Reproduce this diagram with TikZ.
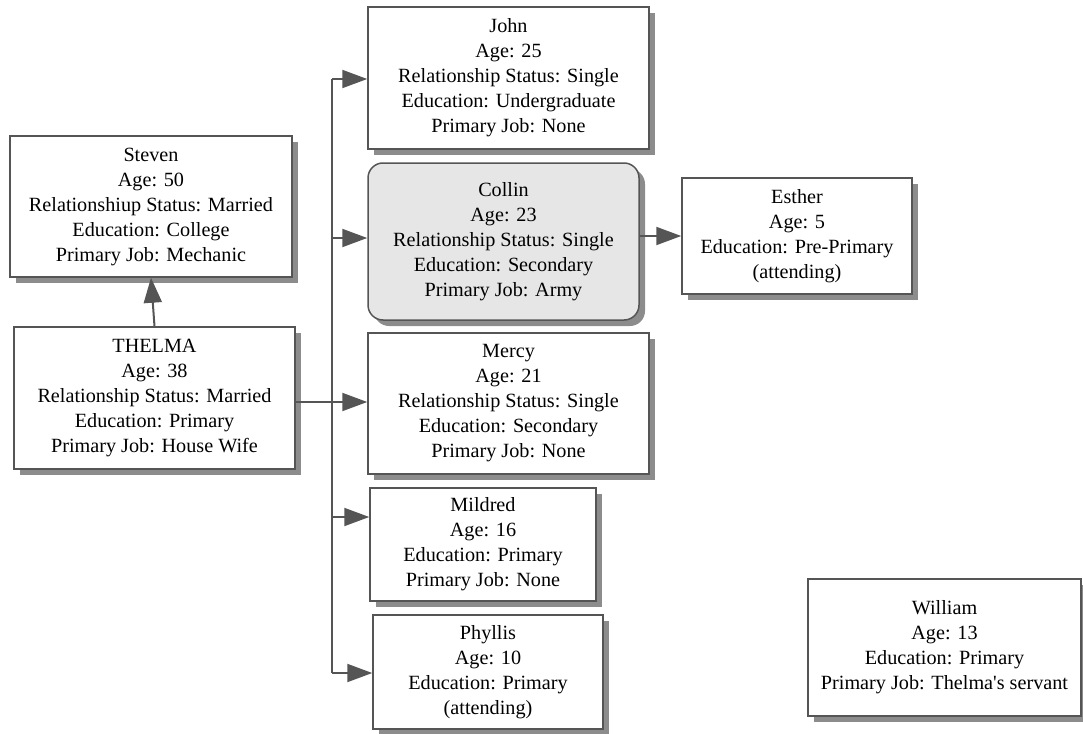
\documentclass[tikz,border=0pt]{standalone}
\usepackage{fontspec}
\setmainfont{Liberation Serif}
\usetikzlibrary{shadows,arrows.meta}
\definecolor{edgegray}{HTML}{555555}
\definecolor{shadowgray}{HTML}{8C8C8C}
\definecolor{hilite}{HTML}{E6E6E6}
\begin{document}
\begin{tikzpicture}[x=1pt,y=-1pt,
  person/.style={draw=edgegray, line width=1.5pt, fill=white, align=center,
    inner sep=0pt, font=\fontsize{20.2}{25}\selectfont,
    drop shadow={shadow xshift=6pt, shadow yshift=-6pt, fill=shadowgray, opacity=1}},
  link/.style={draw=edgegray, line width=2pt},
  arr/.style={link, -{Triangle[length=25pt,width=18pt]}}
]
\useasboundingbox (0,0) rectangle (1083,733);

% people
\node[person, minimum width=282pt, minimum height=141pt] (steven) at (151,206.5)
  {Steven\\Age: 50\\Relationshiup Status: Married\\Education: College\\Primary Job: Mechanic};
\node[person, minimum width=281pt, minimum height=142pt] (thelma) at (154.5,398)
  {THELMA\\Age: 38\\Relationship Status: Married\\Education: Primary\\Primary Job: House Wife};
\node[person, minimum width=281pt, minimum height=142pt] (john) at (508.5,78)
  {John\\Age: 25\\Relationship Status: Single\\Education: Undergraduate\\Primary Job: None};
\node[person, fill=hilite, rounded corners=15pt, minimum width=271pt, minimum height=157pt] (collin) at (503.5,241.5)
  {Collin\\Age: 23\\Relationship Status: Single\\Education: Secondary\\Primary Job: Army};
\node[person, minimum width=230pt, minimum height=116pt] (esther) at (797,236)
  {Esther\\Age: 5\\Education: Pre-Primary\\(attending)};
\node[person, minimum width=281pt, minimum height=141pt] (mercy) at (508.5,403.5)
  {Mercy\\Age: 21\\Relationship Status: Single\\Education: Secondary\\Primary Job: None};
\node[person, minimum width=226pt, minimum height=113pt] (mildred) at (483,544.5)
  {Mildred\\Age: 16\\Education: Primary\\Primary Job: None};
\node[person, minimum width=230pt, minimum height=114pt] (phyllis) at (488,672)
  {Phyllis\\Age: 10\\Education: Primary\\(attending)};
\node[person, minimum width=273pt, minimum height=137pt] (william) at (944.5,647.5)
  {William\\Age: 13\\Education: Primary\\Primary Job: Thelma\textquotesingle s servant};

% branch points on the trunk
\coordinate (tjohn) at (332,79);
\coordinate (tcollin) at (332,238);
\coordinate (tmercy) at (332,402);
\coordinate (tmildred) at (332,517);
\coordinate (tphyllis) at (332,673);

% connectors
\draw[arr] (thelma.north) -- (steven.south);
\draw[link] (thelma.east |- tmercy) -- (tmercy);
\draw[link] (tjohn) -- (tphyllis);
\draw[arr] (tjohn) -- (john.west |- tjohn);
\draw[arr] (tcollin) -- (collin.west |- tcollin);
\draw[arr] (tmercy) -- (mercy.west |- tmercy);
\draw[arr] (tmildred) -- (mildred.west |- tmildred);
\draw[arr] (tphyllis) -- (phyllis.west |- tphyllis);
\draw[arr] (collin.east |- esther.west) -- (esther.west);
\end{tikzpicture}
\end{document}
